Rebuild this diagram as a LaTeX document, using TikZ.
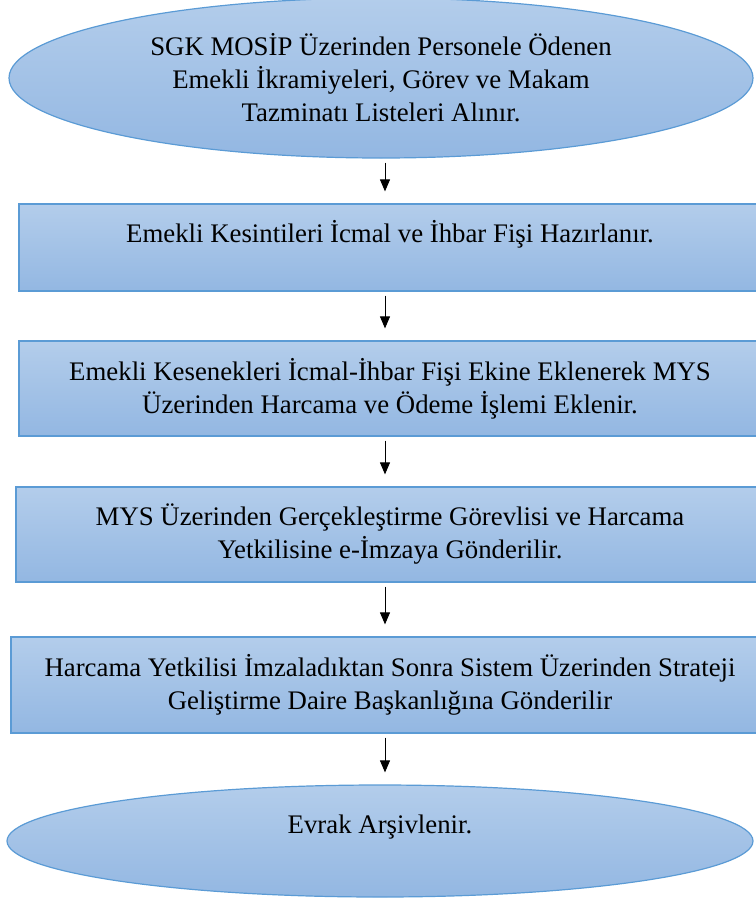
\documentclass[tikz,border=0pt]{standalone}
\usepackage{fontspec}
\setmainfont{Liberation Serif}
\usetikzlibrary{shapes.geometric,arrows.meta}
\definecolor{boxline}{HTML}{5B9BD5}
\definecolor{boxtop}{HTML}{B3CDEB}
\definecolor{boxbot}{HTML}{93B7E2}

\begin{document}
\begin{tikzpicture}[x=1pt,y=-1pt,>={Triangle[length=12pt,width=10pt]}]
	\tikzstyle{every node}=[font=\fontsize{26.8}{33}\selectfont, align=center, inner sep=0pt]
	\tikzstyle{oval}=[ellipse, draw=boxline, line width=1.2pt, top color=boxtop, bottom color=boxbot]
	\tikzstyle{box}=[rectangle, draw=boxline, line width=1.2pt, top color=boxtop, bottom color=boxbot]
	\tikzstyle{flow}=[->, line width=1pt, shorten <=4pt, shorten >=12pt]
	\useasboundingbox (0,0) rectangle (755,902);
	\coordinate (axis) at (385,0);
	%Start
	\node[oval, minimum width=744pt, minimum height=160pt](start) at (381,78){SGK MOSİP Üzerinden Personele Ödenen\\Emekli İkramiyeleri, Görev ve Makam\\Tazminatı Listeleri Alınır.};
	%Steps
	\node[box, minimum width=742pt, minimum height=87pt](step1) at (390,247.5){Emekli Kesintileri İcmal ve İhbar Fişi Hazırlanır.\\\mbox{}};
	\node[box, minimum width=742pt, minimum height=95pt](step2) at (390,388.5){Emekli Kesenekleri İcmal-İhbar Fişi Ekine Eklenerek MYS\\Üzerinden Harcama ve Ödeme İşlemi Eklenir.};
	\node[box, minimum width=748pt, minimum height=95pt](step3) at (390,534.5){MYS Üzerinden Gerçekleştirme Görevlisi ve Harcama\\Yetkilisine e-İmzaya Gönderilir.};
	\node[box, minimum width=758pt, minimum height=96pt](step4) at (390,685){Harcama Yetkilisi İmzaladıktan Sonra Sistem Üzerinden Strateji\\Geliştirme Daire Başkanlığına Gönderilir};
	%End
	\node[oval, minimum width=746pt, minimum height=112pt](finish) at (380,841){Evrak Arşivlenir.\\\mbox{}};
	%Arrows
	\draw[flow] (start.south -| axis) -- (step1.north -| axis);
	\draw[flow] (step1.south -| axis) -- (step2.north -| axis);
	\draw[flow] (step2.south -| axis) -- (step3.north -| axis);
	\draw[flow] (step3.south -| axis) -- (step4.north -| axis);
	\draw[flow] (step4.south -| axis) -- (finish.north -| axis);
\end{tikzpicture}
\end{document}
